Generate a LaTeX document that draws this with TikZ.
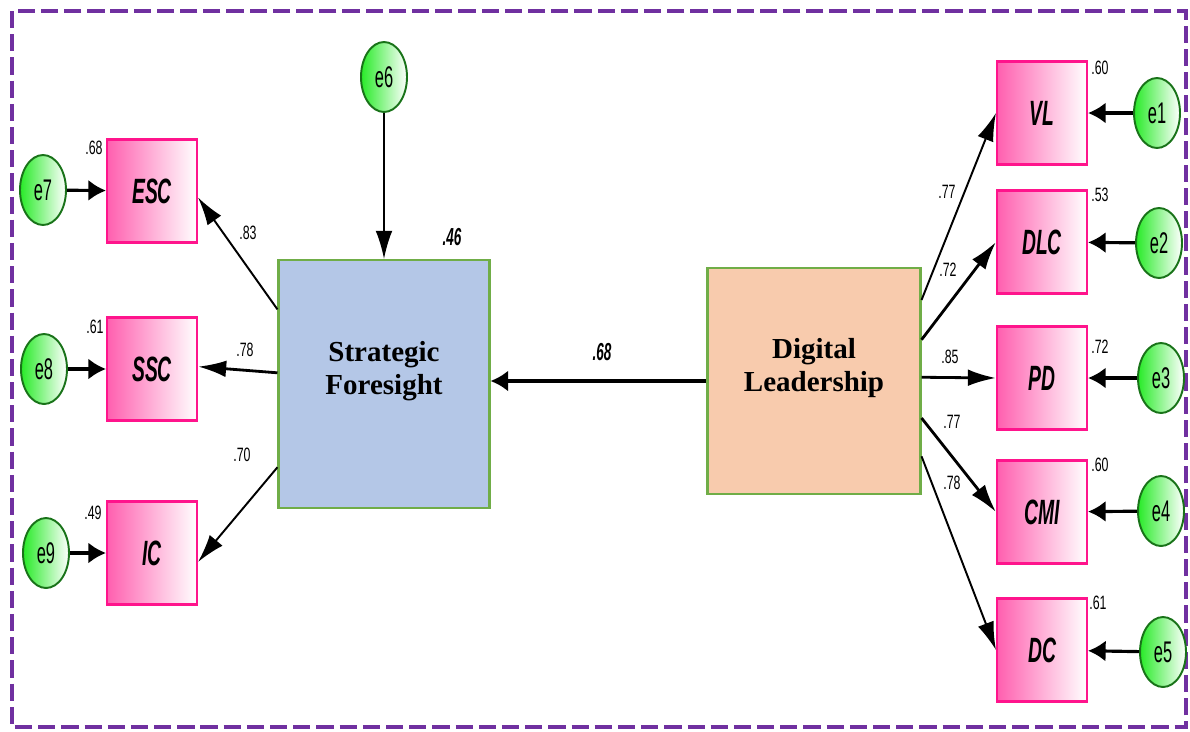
\documentclass[tikz,border=0pt]{standalone}
\usepackage{fontspec}
\setmainfont{Liberation Serif}
\newfontfamily\narrowsans{Liberation Sans}[FakeStretch=0.55]
\newfontfamily\coefsans{Liberation Sans}[FakeStretch=0.64]
\usetikzlibrary{arrows.meta,shapes.geometric}

\definecolor{sfblue}{RGB}{180,199,231}
\definecolor{dlpeach}{RGB}{248,203,173}
\definecolor{boxgreen}{RGB}{112,173,71}
\definecolor{itempink}{RGB}{255,95,175}
\definecolor{itemedge}{RGB}{255,20,140}
\definecolor{errgreen}{RGB}{40,235,40}
\definecolor{erredge}{RGB}{25,115,25}
\definecolor{framepurple}{RGB}{112,48,160}

\tikzset{
  item/.style={draw=itemedge, line width=1.2pt, left color=itempink, right color=white,
    minimum width=1.8cm, minimum height=2.06cm, inner sep=0pt,
    font=\narrowsans\fontsize{20}{20}\selectfont\bfseries\itshape},
  err/.style={ellipse, draw=erredge, line width=1.1pt, left color=errgreen, right color=white,
    minimum width=0.92cm, minimum height=1.4cm, inner sep=0pt,
    font=\narrowsans\fontsize{17}{17}\selectfont},
  latent/.style={draw=boxgreen, line width=1.2pt, inner sep=0pt},
  latenttext/.style={font=\fontsize{16.5}{19}\selectfont\bfseries, align=center},
  coef/.style={font=\coefsans\fontsize{11}{11}\selectfont, inner sep=0pt},
  bigcoef/.style={font=\narrowsans\fontsize{14}{14}\selectfont\bfseries\itshape, inner sep=0pt},
  errarrow/.style={-{Latex[length=10pt,width=12pt]}, line width=1.8pt},
  loadarrow/.style={-{Latex[length=16pt,width=9.5pt]}, line width=1.1pt}
}

\begin{document}
\begin{tikzpicture}[x=0.02cm, y=-0.02cm]
\useasboundingbox (0,0) rectangle (1190,731);
% dashed frame
\draw[framepurple, line width=2.8pt, dash pattern=on 9.8pt off 3.4pt] (12,11) rectangle (1186,727);

% Latent variables
\node[latent, fill=sfblue, minimum width=4.22cm, minimum height=4.96cm] (SF) at (384,384) {};
\node[latenttext] (SFtext) at (384,371) {Strategic\\Foresight};
\node[latent, fill=dlpeach, minimum width=4.26cm, minimum height=4.52cm] (DL) at (814,381) {};
\node[latenttext] (DLtext) at (814,368) {Digital\\Leadership};

% Indicators of Strategic Foresight
\node[item] (ESC) at (152,191) {ESC};
\node[item] (SSC) at (152,369) {SSC};
\node[item] (IC) at (152,553) {IC};
% Indicators of Digital Leadership
\node[item] (VL) at (1042,113) {VL};
\node[item] (DLC) at (1042,242) {DLC};
\node[item] (PD) at (1042,378) {PD};
\node[item] (CMI) at (1042,512) {CMI};
\node[item] (DC) at (1042,650) {DC};

% Error terms
\node[err] (e6) at (384,77) {e6};
\node[err] (e7) at (43,190) {e7};
\node[err] (e8) at (44,369) {e8};
\node[err] (e9) at (46,553) {e9};
\node[err] (e1) at (1157,113) {e1};
\node[err] (e2) at (1159,243) {e2};
\node[err] (e3) at (1161,378) {e3};
\node[err] (e4) at (1161,511) {e4};
\node[err] (e5) at (1163,652) {e5};

% Error arrows
\draw[errarrow] (e7) -- (ESC);
\draw[errarrow] (e8) -- (SSC);
\draw[errarrow] (e9) -- (IC);
\draw[errarrow] (e1) -- (VL);
\draw[errarrow] (e2) -- (DLC);
\draw[errarrow] (e3) -- (PD);
\draw[errarrow] (e4) -- (CMI);
\draw[errarrow] (e5) -- (DC);
\draw[loadarrow] (e6) -- (SF);

% Structural path
\draw[errarrow] (DL.west) -- (DL.west -| SF.east);

% Loadings
\draw[loadarrow] (SF.145) -- (ESC.-8);
\draw[loadarrow, line width=1.6pt] (SF.174) -- (SSC.3);
\draw[loadarrow] (SF.218) -- (IC.-11);
\draw[loadarrow] (DL.37) -- (VL.west);
\draw[loadarrow, line width=1.6pt] (DL.21) -- (DLC.west);
\draw[loadarrow, line width=1.6pt] (DL.2) -- (PD.west);
\draw[loadarrow, line width=1.6pt] (DL.-19) -- (CMI.west);
\draw[loadarrow] (DL.-35) -- (DC.west);

% Loading values
\node[coef] (lESC) at (248,233) {.83};
\node[coef] (lSSC) at (245,350) {.78};
\node[coef] (lIC) at (242,455) {.70};
\node[coef] (lVL) at (947,192) {.77};
\node[coef] (lDLC) at (948,270) {.72};
\node[coef] (lPD) at (950,357) {.85};
\node[coef] (lCMI) at (952,422) {.77};
\node[coef] (lDC) at (952,483) {.78};

% Squared multiple correlations
\node[coef] (rESC) at (94,148) {.68};
\node[coef] (rSSC) at (95,327) {.61};
\node[coef] (rIC) at (93,513) {.49};
\node[coef] (rVL) at (1100,68) {.60};
\node[coef] (rDLC) at (1100,195) {.53};
\node[coef] (rPD) at (1100,347) {.72};
\node[coef] (rCMI) at (1100,465) {.60};
\node[coef] (rDC) at (1098,603) {.61};
\node[bigcoef] (rSF) at (452,237) {.46};
\node[bigcoef] (bDL) at (602,352) {.68};
\end{tikzpicture}
\end{document}
